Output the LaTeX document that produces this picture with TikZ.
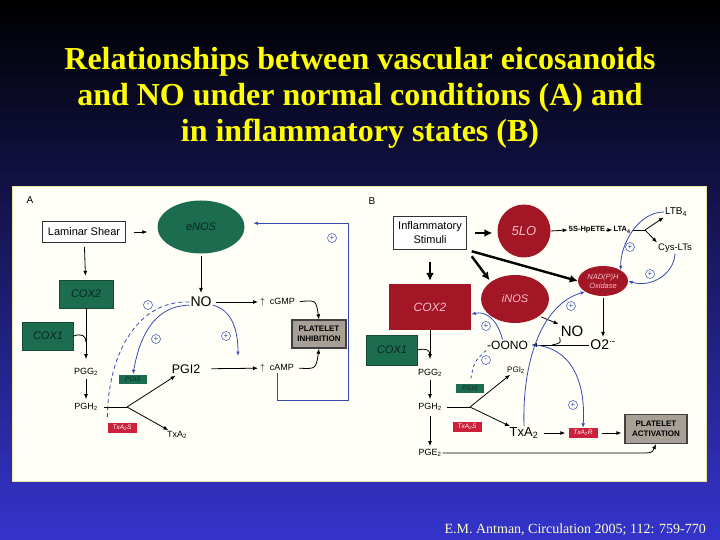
\documentclass[tikz,border=0pt]{standalone}
\usepackage{fontspec}
\setmainfont{Liberation Serif}
\setsansfont{Liberation Sans}
\usepackage{tikz}
\usetikzlibrary{arrows.meta}
\usetikzlibrary{shapes.geometric,calc}

\definecolor{slidetop}{RGB}{0,0,0}
\definecolor{slidebot}{RGB}{52,52,205}
\definecolor{titleyel}{RGB}{255,255,0}
\definecolor{footyel}{RGB}{255,255,190}
\definecolor{paneloff}{RGB}{255,255,247}
\definecolor{panelrim}{RGB}{235,230,160}
\definecolor{enosgreen}{RGB}{28,108,80}
\definecolor{darkgreen}{RGB}{10,38,28}
\definecolor{inosred}{RGB}{163,22,38}
\definecolor{tagred}{RGB}{205,32,58}
\definecolor{pinktext}{RGB}{245,190,200}
\definecolor{plategray}{RGB}{168,160,150}
\definecolor{fbblue}{RGB}{55,75,175}

\tikzset{
	arr/.style={-{Latex[length=5pt,width=4pt]}, line width=0.8pt},
	fatarr/.style={-{Latex[length=8pt,width=8pt]}, line width=2.4pt},
	fbarr/.style={-{Latex[length=4.5pt,width=3.5pt]}, draw=fbblue, line width=0.8pt},
	fbline/.style={draw=fbblue, line width=0.8pt},
	sign/.style={circle, draw=fbblue, line width=0.5pt, text=fbblue, inner sep=0pt, minimum size=9pt, font=\sffamily\fontsize{8}{8}\selectfont},
	whitebox/.style={draw=black!80, line width=0.8pt, fill=white, inner sep=0pt, align=center, font=\sffamily\fontsize{11}{14}\selectfont},
	greenbox/.style={fill=enosgreen, draw=enosgreen!70!black, inner sep=0pt, text=darkgreen, font=\sffamily\itshape\fontsize{11}{12}\selectfont},
	redbox/.style={fill=inosred, inner sep=0pt, text=pinktext, font=\sffamily\itshape\fontsize{12}{13}\selectfont},
	gtag/.style={fill=enosgreen, text=darkgreen, inner sep=0pt, minimum width=28pt, minimum height=9pt, font=\sffamily\itshape\fontsize{6.5}{7}\selectfont},
	rtag/.style={fill=tagred, text=white, inner sep=0pt, minimum width=29pt, minimum height=10pt, font=\sffamily\itshape\fontsize{6.5}{7}\selectfont},
	plate/.style={fill=plategray, draw=black!75, line width=1.3pt, inner sep=0pt, align=center, font=\sffamily\bfseries\fontsize{8}{9.5}\selectfont},
	lbl/.style={inner sep=1pt, font=\sffamily\fontsize{9}{10}\selectfont},
	biglbl/.style={inner sep=1pt, font=\sffamily\fontsize{14}{14}\selectfont},
	tinylbl/.style={inner sep=1pt, font=\sffamily\bfseries\fontsize{7.5}{8}\selectfont},
}

\begin{document}
\begin{tikzpicture}[x=1pt,y=-1pt]
	\useasboundingbox (0,0) rectangle (720,540);
	\shade[top color=slidetop, bottom color=slidebot] (0,0) rectangle (720,540);
	
	\node[text=titleyel, inner sep=0pt, align=center, font=\bfseries\fontsize{32}{36}\selectfont] (title) at (360,97.5) {Relationships between vascular eicosanoids\\and NO under normal conditions (A) and\\in inflammatory states (B)};
	\node[text=footyel, inner sep=0pt, anchor=base east, font=\fontsize{14}{16}\selectfont] (cite) at (706,533) {E.M. Antman, Circulation 2005; 112: 759-770};
	
	\draw[draw=panelrim, line width=1pt, fill=paneloff] (12,187) rectangle (706,481);
	
	% panel A
	\node[inner sep=0pt, font=\sffamily\fontsize{10}{10}\selectfont] (labA) at (30,200) {A};
	\node[whitebox, minimum width=83pt, minimum height=21pt] (shear) at (84,232) {Laminar Shear};
	\node[ellipse, fill=enosgreen, minimum width=87pt, minimum height=53pt, inner sep=0pt, text=darkgreen, font=\sffamily\itshape\fontsize{11}{12}\selectfont] (enos) at (201,227) {eNOS};
	\node[greenbox, minimum width=54pt, minimum height=28pt] (cox2A) at (86,294) {COX2};
	\node[greenbox, minimum width=51pt, minimum height=28pt] (cox1A) at (48,336) {COX1};
	\node[lbl] (pggA) at (86,372) {PGG\textsubscript{2}};
	\node[lbl] (pghA) at (86,407) {PGH\textsubscript{2}};
	\node[biglbl] (noA) at (201,302) {NO};
	\node[inner sep=1pt, font=\sffamily\fontsize{12.5}{13}\selectfont] (pgiA) at (186,369) {PGI2};
	\node[lbl] (txaA) at (177,435) {TxA\textsubscript{2}};
	\node[gtag] (pgisA) at (133,379) {PGIS};
	\node[rtag] (txasA) at (122,428) {TxA\textsubscript{2}S};
	\node[lbl, anchor=west] (cgmpA) at (259,302) {$\uparrow$\hspace{5pt}cGMP};
	\node[lbl, anchor=west] (campA) at (259,368) {$\uparrow$\hspace{5pt}cAMP};
	\node[plate, minimum width=54pt, minimum height=28pt] (platA) at (319,334) {PLATELET\\INHIBITION};
	\node[sign] (sA1) at (332,238) {+};
	\node[sign] (sA2) at (156,339) {+};
	\node[sign] (sA3) at (226,336) {+};
	\node[sign] (sA4) at (148,305) {-};
	\coordinate (jA) at (127,407);
	\coordinate (mergeA) at (86,342);
	\coordinate (loopA) at (348,400);
	\coordinate (onA) at (238,356);
	
	\draw[arr, shorten <=8pt, shorten >=10pt] (shear.east) -- (shear.east -| enos.west);
	\draw[arr, shorten <=4pt, shorten >=4pt] (shear) -- (cox2A);
	\draw[arr, shorten >=8pt] (cox2A) -- (pggA);
	\draw[line width=0.8pt] (cox1A.east) .. controls (82,333) and (86,336) .. (mergeA);
	\draw[arr, shorten <=2pt, shorten >=3pt] (pggA) -- (pghA);
	\draw[line width=0.8pt, shorten <=5pt] (pghA.east) -- (jA);
	\draw[arr, shorten >=2pt] (jA) -- (pgiA);
	\draw[arr] (jA) -- (txaA);
	\draw[arr, shorten <=2pt, shorten >=3pt] (enos) -- (noA);
	\draw[arr, shorten <=3pt, shorten >=1pt] (noA) -- (cgmpA);
	\draw[arr, shorten <=10pt, shorten >=1pt] (pgiA) -- (campA);
	\draw[arr, shorten <=4pt] (cgmpA.east) .. controls (316,300) .. (platA.north);
	\draw[arr, shorten <=4pt] (campA.east) .. controls (316,369) .. (platA.south);
	\draw[fbarr, shorten >=9pt] (campA.south) |- (loopA) |- (enos.5);
	\draw[fbarr] (noA.195) .. controls (152,306) and (139,340) .. (pgisA.north);
	\draw[fbline, dashed, dash pattern=on 4pt off 3pt, shorten >=5pt] (noA.west) .. controls (140,300) and (108,350) .. (txasA.north west);
	\draw[fbarr] (noA.345) .. controls (232,310) and (238,330) .. (onA);
	
	% panel B
	\node[inner sep=0pt, font=\sffamily\fontsize{10}{10}\selectfont] (labB) at (372,201) {B};
	\node[whitebox, minimum width=73pt, minimum height=33pt] (infl) at (430,233) {Inflammatory\\Stimuli};
	\node[circle, fill=inosred, minimum size=53pt, inner sep=0pt, text=pinktext, font=\sffamily\itshape\fontsize{13}{13}\selectfont] (lo5) at (524,231) {5LO};
	\node[redbox, minimum width=82pt, minimum height=46pt] (cox2B) at (430,307) {COX2};
	\node[ellipse, fill=inosred, minimum width=68pt, minimum height=48pt, inner sep=0pt, text=pinktext, font=\sffamily\itshape\fontsize{11}{12}\selectfont] (inos) at (515,299) {iNOS};
	\node[ellipse, fill=inosred, minimum width=50pt, minimum height=30pt, inner sep=0pt, align=center, text=pinktext, font=\sffamily\itshape\fontsize{7.5}{9}\selectfont] (nadph) at (603,281) {NAD(P)H\\Oxidase};
	\node[tinylbl] (hpete) at (587,230) {5S-HpETE};
	\node[tinylbl] (lta) at (622,230) {LTA\textsubscript{4}};
	\node[inner sep=1pt, font=\sffamily\fontsize{10}{10}\selectfont] (ltb) at (676,212) {LTB\textsubscript{4}};
	\node[inner sep=1pt, font=\sffamily\fontsize{9.5}{10}\selectfont] (cys) at (675,248) {Cys-LTs};
	\node[greenbox, minimum width=51pt, minimum height=30pt] (cox1B) at (392,350) {COX1};
	\node[lbl] (pggB) at (430,373) {PGG\textsubscript{2}};
	\node[lbl] (pghB) at (430,407) {PGH\textsubscript{2}};
	\node[lbl] (pgeB) at (430,453) {PGE\textsubscript{2}};
	\node[inner sep=1pt, font=\sffamily\fontsize{8}{9}\selectfont] (pgiB) at (516,370) {PGI\textsubscript{2}};
	\node[inner sep=1pt, font=\sffamily\fontsize{13}{14}\selectfont] (txaB) at (524,433) {TxA\textsubscript{2}};
	\node[gtag] (pgisB) at (470,388) {PGIS};
	\node[rtag] (txasB) at (467,427) {TxA\textsubscript{2}S};
	\node[rtag] (txarB) at (583,433) {TxA\textsubscript{2}R};
	\node[plate, minimum width=62pt, minimum height=29pt] (platB) at (656,429) {PLATELET\\ACTIVATION};
	\node[inner sep=1pt, font=\sffamily\fontsize{15}{15}\selectfont] (noB) at (572,331) {NO};
	\node[inner sep=1pt, font=\sffamily\fontsize{14}{14}\selectfont] (o2B) at (603,345) {O2\textsuperscript{$\cdot$-}};
	\node[inner sep=1pt, font=\sffamily\fontsize{12}{12}\selectfont] (oonoB) at (509,345) {-OONO\textsuperscript{$\cdot$}};
	\node[sign] (sB1) at (486,326) {+};
	\node[sign] (sB2) at (486,360) {-};
	\node[sign] (sB3) at (571,306) {+};
	\node[sign] (sB4) at (573,405) {+};
	\node[sign] (sB5) at (630,247) {+};
	\node[sign] (sB6) at (650,274) {+};
	\coordinate (jB) at (470,407);
	\coordinate (jB2) at (645,230);
	\coordinate (mergeB) at (430,355);
	\coordinate (hookB) at (552,345);
	\coordinate (bendB) at (638,453);
	
	\draw[fatarr, shorten <=8pt, shorten >=5pt] (infl.east) -- (infl.east -| lo5.west);
	\draw[fatarr, shorten <=12pt, shorten >=3pt] (infl) -- (cox2B);
	\draw[fatarr, shorten <=8pt, shorten >=2pt] (infl.south east) -- (inos.north west);
	\draw[fatarr, shorten <=5pt] (infl.south east) -- (nadph.west);
	\draw[arr] (lo5.east) -- (hpete.west);
	\draw[arr] (hpete) -- (lta);
	\draw[line width=0.8pt] (lta) -- (jB2);
	\draw[arr] (jB2) -- (ltb.south west);
	\draw[arr] (jB2) -- (cys.north west);
	\draw[arr, shorten <=2pt, shorten >=2pt] (nadph) -- (o2B);
	\draw[arr] (o2B.west) -- (oonoB.east);
	\draw[line width=0.8pt] (noB.south west) .. controls (561,343) .. (hookB);
	\draw[arr, shorten <=2pt, shorten >=1pt] (inos.south east) -- (noB.north west);
	\draw[arr, shorten >=9pt] (cox2B) -- (pggB);
	\draw[line width=0.8pt] (cox1B.east) .. controls (426,348) and (430,350) .. (mergeB);
	\draw[arr, shorten <=2pt, shorten >=3pt] (pggB) -- (pghB);
	\draw[arr, shorten <=4pt, shorten >=2pt] (pghB) -- (pgeB);
	\draw[line width=0.8pt, shorten <=4pt] (pghB.east) -- (jB);
	\draw[arr] (jB) -- (pgiB);
	\draw[arr] (jB) -- (txaB);
	\draw[arr, shorten <=4pt, shorten >=3pt] (txaB.east) -- (txarB.west);
	\draw[arr, shorten <=4pt, shorten >=3pt] (txarB.east) -- (txarB.east -| platB.west);
	\draw[arr] (pgeB.east) -- (bendB) .. controls (652,453) .. (platB.south);
	\draw[fbarr] (ltb.west) .. controls (638,212) and (620,245) .. (nadph.north east);
	\draw[fbarr] (cys.south) .. controls (674,275) and (650,288) .. (nadph.east);
	\draw[fbarr] (txaB.north) .. controls (522,365) and (540,305) .. (nadph.south west);
	\draw[fbarr] (oonoB.east) .. controls (570,346) and (586,380) .. (txarB.north);
	\draw[fbarr] (oonoB.140) .. controls (497,318) and (485,311) .. (cox2B.-10);
	\draw[fbline, dashed, dash pattern=on 3pt off 3pt, shorten >=5pt] (oonoB.south west) .. controls (474,362) .. (pgisB.north);
\end{tikzpicture}
\end{document}
